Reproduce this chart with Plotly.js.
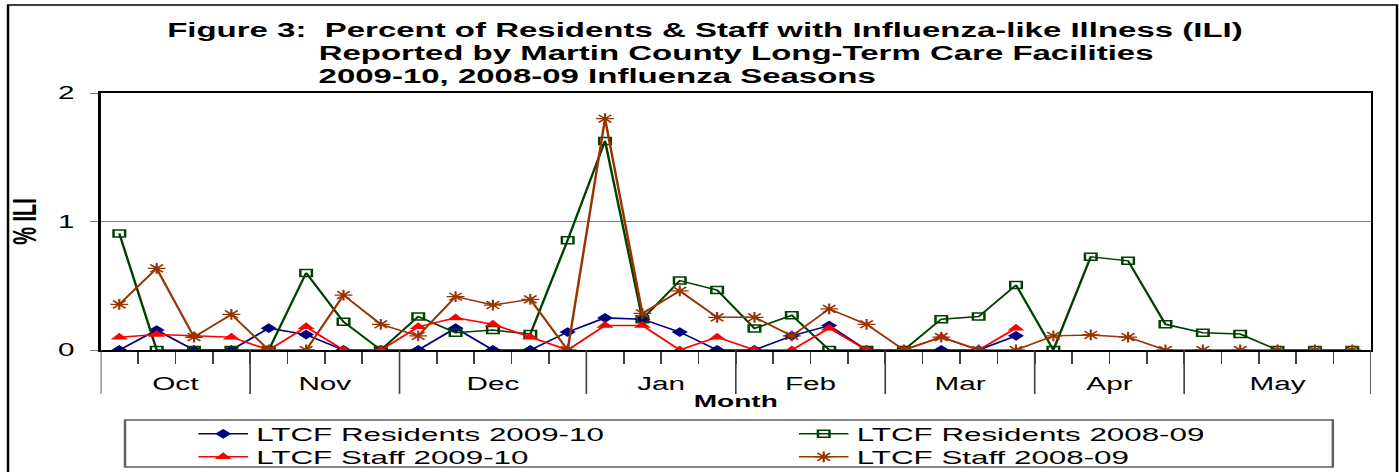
<!DOCTYPE html>
<html><head><meta charset="utf-8">
<script src="https://cdn.plot.ly/plotly-3.0.1.min.js"></script>
<style>
html,body{margin:0;padding:0;background:#fff;overflow:hidden;width:1399px;height:472px;}
#chart{width:848px;height:472px;transform:scaleX(1.649764);transform-origin:0 0;}
</style></head><body><div id="chart"></div>
<script>
// ---- data ----
const months = ['Oct','Nov','Dec','Jan','Feb','Mar','Apr','May'];
const weeksPerMonth = [4,4,5,4,4,4,4,5];
const seriesNames = ['LTCF Residents 2009-10','LTCF Residents 2008-09','LTCF Staff 2009-10','LTCF Staff 2008-09'];
const resid0910 = [0,0.155,0,0, 0.17,0.12,0,0, 0,0.17,0,0,0.14, 0.25,0.24,0.14,0, 0,0.11,0.19,0, 0,0,0,0.11, null,null,null,null, null,null,null,null,null];
const resid0809 = [0.907,0,0,0, 0,0.60,0.22,0, 0.26,0.135,0.155,0.124,0.855, 1.627,0.24,0.54,0.466, 0.168,0.27,0,0, 0,0.24,0.26,0.505, 0,0.725,0.694,0.20, 0.135,0.124,0,0,0];
const staff0910 = [0.10,0.12,0.11,0.10, 0,0.18,0,0, 0.18,0.25,0.20,0.10,0, 0.19,0.19,0,0.10, 0,0,0.17,0, 0,0.10,0,0.17, null,null,null,null, null,null,null,null,null];
const staff0809 = [0.355,0.635,0.10,0.277, 0,0,0.427,0.20, 0.11,0.415,0.35,0.394,0, 1.80,0.285,0.46,0.254, 0.254,0.11,0.32,0.20, 0,0.10,0,0, 0.11,0.117,0.10,0, 0,0,0,0,0];
const yTicks = [0,1,2];

// ---- derived positions ----
const nWeeks = weeksPerMonth.reduce((a,b)=>a+b,0);
const xIdx = Array.from({length:nWeeks},(_,i)=>i);
const bounds = [-0.5]; weeksPerMonth.forEach(w=>bounds.push(bounds[bounds.length-1]+w));
const centers = months.map((m,i)=>(bounds[i]+bounds[i+1])/2);
const weekBounds = xIdx.slice(0,nWeeks-1).map(i=>i+0.5);

const FONT = '"Liberation Sans", Arial, sans-serif';

const traces = [
  {x:xIdx, y:resid0910, name:seriesNames[0], mode:'lines+markers', legend:'legend',
   line:{color:'#000080',width:1.5}, marker:{symbol:'diamond',size:7.5,color:'#000080'}},
  {x:xIdx, y:resid0809, name:seriesNames[1], mode:'lines+markers', legend:'legend',
   line:{color:'#004000',width:1.5}, marker:{symbol:'square-open',size:7,color:'#004000',line:{width:1.5,color:'#004000'}}},
  {x:xIdx, y:staff0910, name:seriesNames[2], mode:'lines+markers', legend:'legend2',
   line:{color:'#FF0000',width:1.5}, marker:{symbol:'triangle-up',size:9,color:'#FF0000'}},
  {x:xIdx, y:staff0809, name:seriesNames[3], mode:'lines+markers', legend:'legend2',
   line:{color:'#993300',width:1.5}, marker:{symbol:'asterisk-open',size:9,color:'#993300',line:{width:1.3,color:'#993300'}}}
];

const shapes = bounds.map(b=>({type:'line',xref:'x',yref:'paper',x0:b,x1:b,y0:0,y1:-0.171,line:{color:'#404040',width:1}}));
// chart-area frame
shapes.push({type:'rect',xref:'paper',yref:'paper',x0:-0.0729,x1:1.0205,y0:1.3424,y1:-0.55,line:{color:'#000',width:1.5},fillcolor:'rgba(0,0,0,0)'});
// legend box
shapes.push({type:'rect',xref:'paper',yref:'paper',x0:0.0192,x1:0.970,y0:-0.2724,y1:-0.4553,line:{color:'#606060',width:1.5},fillcolor:'rgba(0,0,0,0)'});

const legendCommon = {orientation:'h', xref:'paper', yref:'paper', x:0.0705, xanchor:'left', yanchor:'middle',
  entrywidth:319, entrywidthmode:'pixels', font:{family:FONT,size:19,color:'#000'}, bgcolor:'rgba(0,0,0,0)', borderwidth:0};

const layout = {
  width:848, height:472,
  margin:{l:61,r:17,t:93,b:122,autoexpand:false},
  paper_bgcolor:'#fff', plot_bgcolor:'#fff',
  font:{family:FONT,color:'#000'},
  title:{text:'Figure 3:  Percent of Residents & Staff with Influenza-like Illness (ILI)',
    font:{family:FONT,size:20,weight:'bold',color:'#000'},
    xref:'container', yref:'container', x:0.5039, xanchor:'center', y:0.9364, yanchor:'middle'},
  annotations:[
    {text:'Reported by Martin County Long-Term Care Facilities', xref:'paper', yref:'paper', x:0.1688, y:1.1556,
     xanchor:'left', yanchor:'middle', showarrow:false, font:{family:FONT,size:20,weight:'bold',color:'#000'}},
    {text:'2009-10, 2008-09 Influenza Seasons', xref:'paper', yref:'paper', x:0.1688, y:1.066,
     xanchor:'left', yanchor:'middle', showarrow:false, font:{family:FONT,size:20,weight:'bold',color:'#000'}}
  ],
  xaxis:{range:[-0.5,nWeeks-0.5], tickmode:'array', tickvals:centers, ticktext:months, ticks:'',
    ticklabelstandoff:16, tickfont:{family:FONT,size:18,color:'#000'},
    minor:{tickmode:'array', tickvals:weekBounds, ticks:'outside', ticklen:12, tickcolor:'#404040', tickwidth:1, showgrid:false},
    showgrid:false, zeroline:false, showline:true, linecolor:'#000', linewidth:2, mirror:true,
    title:{text:'Month', font:{family:FONT,size:17,weight:'bold',color:'#000'}, standoff:3}},
  yaxis:{range:[0,2], tickmode:'array', tickvals:yTicks, ticks:'outside', ticklen:5, tickcolor:'#808080', tickwidth:1,
    ticklabelstandoff:6, tickfont:{family:FONT,size:18,color:'#000'},
    showgrid:true, gridcolor:'#808080', gridwidth:1, zeroline:false, showline:true, linecolor:'#000', linewidth:1.3, mirror:true,
    title:{text:'% ILI', font:{family:FONT,size:20,weight:'bold',color:'#000'}, standoff:7}},
  legend:Object.assign({}, legendCommon, {y:-0.3268}),
  legend2:Object.assign({}, legendCommon, {y:-0.4163}),
  shapes:shapes,
  showlegend:true
};

Plotly.newPlot('chart', traces, layout, {displayModeBar:false, staticPlot:true});
</script></body></html>
